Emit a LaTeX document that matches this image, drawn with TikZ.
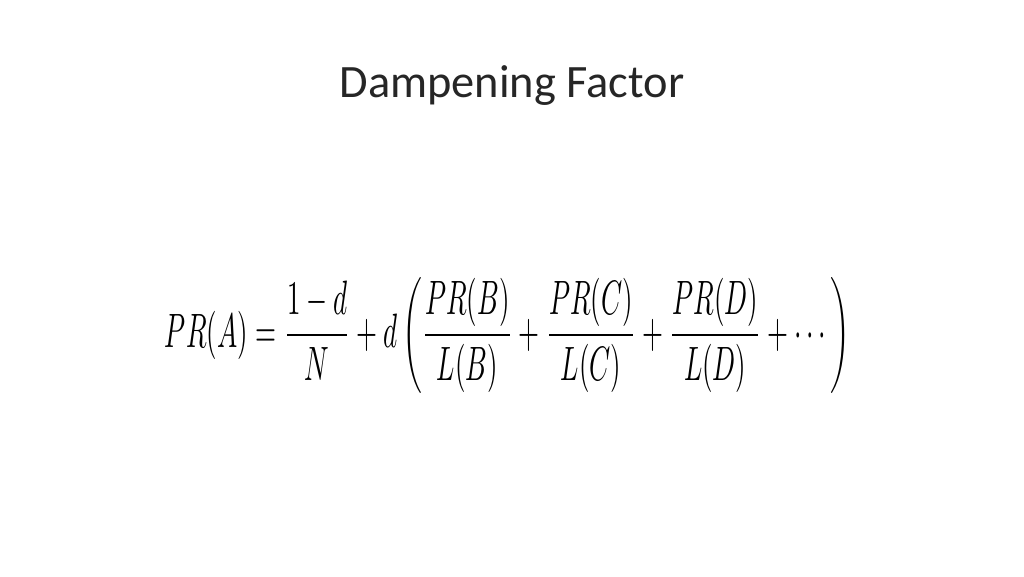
\documentclass[tikz,border=0pt]{standalone}
\usepackage{fontspec}
\usepackage{amsmath}
\setmainfont{Carlito}
\begin{document}
\begin{tikzpicture}
\useasboundingbox[fill=white] (0,0) rectangle (10.24,5.76);
\node[text=black!85] (title) at (5.12,4.90) {\fontsize{13.2}{15}\selectfont Dampening Factor};
\node[inner sep=0pt] (eq) at (5.075,2.41) {\resizebox{6.85cm}{0.70cm}{$\displaystyle PR(A)=\frac{1-d}{N}+d\left(\frac{PR(B)}{L(B)}+\frac{PR(C)}{L(C)}+\frac{PR(D)}{L(D)}+\cdots\right)$}};
\end{tikzpicture}
\end{document}
